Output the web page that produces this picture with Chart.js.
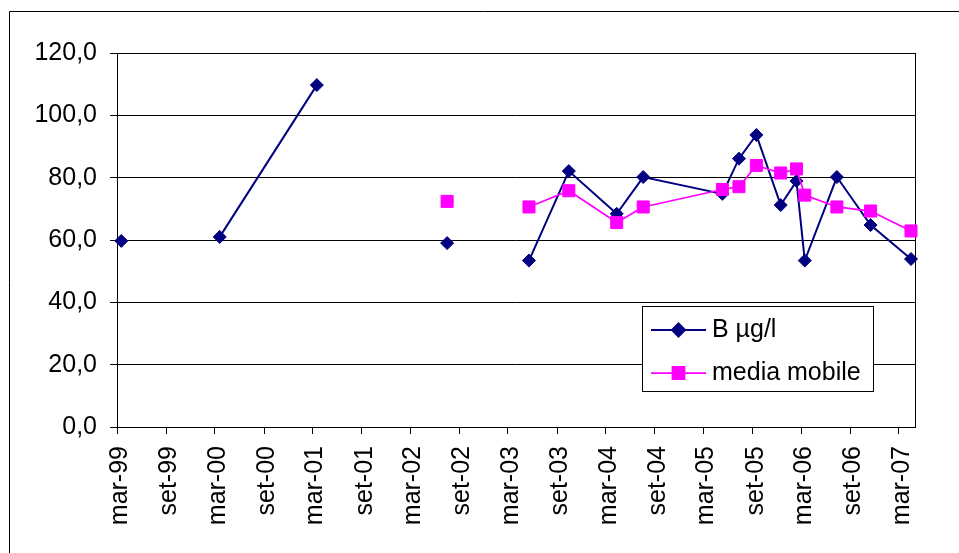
<!DOCTYPE html>
<html>
<head>
<meta charset="utf-8">
<script src="https://cdn.jsdelivr.net/npm/chart.js@4.4.1/dist/chart.umd.min.js"></script>
<style>
  html, body { margin: 0; padding: 0; background: #fff; }
  canvas { display: block; }
</style>
</head>
<body>
<canvas id="chart" width="959" height="553"></canvas>
<script>
// Sampling dates (rows with null values break the lines)
const sampleDates = [
  '1999-03-17', '1999-09-15', '2000-03-19', '2001-03-17', '2001-09-15',
  '2002-07-17', '2003-01-15', '2003-05-19', '2003-10-15', '2004-04-11',
  '2004-07-19', '2005-05-11', '2005-07-12', '2005-09-15', '2005-12-15',
  '2006-02-12', '2006-03-15', '2006-07-13', '2006-11-16', '2007-04-16'
];

// Boron concentration, µg/l
const boron = [
  59.7, null, 61.0, 109.7, null,
  59.0, null, 53.4, 82.1, 68.4,
  80.2, 74.8, 86.1, 93.7, 71.2,
  78.9, 53.4, 80.2, 64.8, 53.9
];

// Moving average
const movingAvg = [
  null, null, null, null, null,
  72.4, null, 70.6, 75.8, 65.6,
  70.6, 76.2, 77.1, 83.9, 81.5,
  82.8, 74.4, 70.6, 69.3, 62.9
];

// Half-yearly tick dates and their labels
const tickDates = [
  '1999-03-01', '1999-09-01', '2000-03-01', '2000-09-01', '2001-03-01',
  '2001-09-01', '2002-03-01', '2002-09-01', '2003-03-01', '2003-09-01',
  '2004-03-01', '2004-09-01', '2005-03-01', '2005-09-01', '2006-03-01',
  '2006-09-01', '2007-03-01'
];
const tickLabels = [
  'mar-99', 'set-99', 'mar-00', 'set-00', 'mar-01', 'set-01', 'mar-02', 'set-02',
  'mar-03', 'set-03', 'mar-04', 'set-04', 'mar-05', 'set-05', 'mar-06', 'set-06', 'mar-07'
];

const axisStart = '1999-03-01';
const axisEnd = '2007-05-01';

function dayNum(iso) {
  const [y, m, d] = iso.split('-').map(Number);
  return Date.UTC(y, m - 1, d) / 86400000;
}

const FONT = 'Arial, "Liberation Sans", sans-serif';
Chart.defaults.font.family = FONT;
Chart.defaults.font.size = 25;
Chart.defaults.color = '#000';

const toPoints = vals => sampleDates.map((d, i) => ({ x: dayNum(d), y: vals[i] }));

// White page with the outer frame
const framePlugin = {
  id: 'frame',
  beforeDraw(chart) {
    const ctx = chart.ctx;
    ctx.save();
    ctx.fillStyle = '#fff';
    ctx.fillRect(0, 0, chart.width, chart.height);
    ctx.strokeStyle = '#000';
    ctx.lineWidth = 1;
    ctx.beginPath();
    ctx.moveTo(9.5, chart.height + 5);
    ctx.lineTo(9.5, 11.5);
    ctx.lineTo(chart.width + 5, 11.5);
    ctx.stroke();
    ctx.restore();
  },
  beforeDatasetsDraw(chart) {
    const { ctx, chartArea: a } = chart;
    ctx.save();
    ctx.strokeStyle = '#000';
    ctx.lineWidth = 1;
    ctx.strokeRect(Math.round(a.left) + 0.5, Math.round(a.top) + 0.5,
                   Math.round(a.right - a.left), Math.round(a.bottom - a.top));
    ctx.restore();
  }
};

// Boxed legend inside the plot area
const boxLegendPlugin = {
  id: 'boxLegend',
  afterDraw(chart, args, opts) {
    const ctx = chart.ctx;
    ctx.save();
    ctx.fillStyle = '#fff';
    ctx.fillRect(opts.x, opts.y, opts.w, opts.h);
    ctx.strokeStyle = '#000';
    ctx.lineWidth = 1;
    ctx.strokeRect(opts.x + 0.5, opts.y + 0.5, opts.w, opts.h);
    chart.data.datasets.forEach((ds, i) => {
      const rowY = opts.y + opts.rowStart + i * opts.rowGap;
      ctx.strokeStyle = ds.borderColor;
      ctx.lineWidth = ds.borderWidth;
      ctx.beginPath();
      ctx.moveTo(opts.x + opts.lineFrom, rowY);
      ctx.lineTo(opts.x + opts.lineTo, rowY);
      ctx.stroke();
      ctx.fillStyle = ds.pointBackgroundColor;
      ctx.strokeStyle = ds.pointBorderColor;
      Chart.helpers.drawPoint(ctx, {
        pointStyle: ds.pointStyle,
        radius: ds.pointRadius,
        borderWidth: ds.pointBorderWidth,
        rotation: 0
      }, opts.x + (opts.lineFrom + opts.lineTo) / 2, rowY);
      ctx.fillStyle = '#000';
      ctx.font = '25px ' + FONT;
      ctx.textBaseline = 'middle';
      ctx.textAlign = 'left';
      ctx.fillText(ds.label, opts.x + opts.textX, rowY);
    });
    ctx.restore();
  }
};

new Chart(document.getElementById('chart'), {
  type: 'line',
  data: {
    datasets: [
      {
        label: 'B µg/l',
        data: toPoints(boron),
        borderColor: '#000080',
        backgroundColor: '#000080',
        borderWidth: 2,
        pointStyle: 'rectRot',
        pointRadius: 6.5,
        pointBorderWidth: 1,
        pointBackgroundColor: '#000080',
        pointBorderColor: '#000080',
        tension: 0,
        spanGaps: false,
        clip: false,
        order: 0
      },
      {
        label: 'media mobile',
        data: toPoints(movingAvg),
        borderColor: '#ff00ff',
        backgroundColor: '#ff00ff',
        borderWidth: 1.75,
        pointStyle: 'rect',
        pointRadius: 8.5,
        pointBorderWidth: 1,
        pointBackgroundColor: '#ff00ff',
        pointBorderColor: '#ff00ff',
        tension: 0,
        spanGaps: false,
        clip: false,
        order: -1
      }
    ]
  },
  options: {
    responsive: false,
    animation: false,
    devicePixelRatio: 1,
    layout: { padding: { left: 0, top: 53, right: 44, bottom: 0 } },
    plugins: {
      legend: { display: false },
      tooltip: { enabled: false },
      boxLegend: {
        x: 642, y: 306, w: 231, h: 85,
        rowStart: 24, rowGap: 43,
        lineFrom: 9, lineTo: 64, textX: 70
      }
    },
    scales: {
      x: {
        type: 'linear',
        min: dayNum(axisStart),
        max: dayNum(axisEnd),
        afterFit(scale) { scale.height = 126; },
        afterBuildTicks(scale) {
          scale.ticks = tickDates.map(d => ({ value: dayNum(d) }));
        },
        ticks: {
          autoSkip: false,
          minRotation: 90,
          maxRotation: 90,
          padding: 12,
          labelOffset: 3,
          callback: (v, i) => tickLabels[i]
        },
        grid: {
          drawOnChartArea: false,
          drawTicks: true,
          tickLength: 7,
          color: '#000',
          lineWidth: 1
        },
        border: { display: true, color: '#000', width: 1 }
      },
      y: {
        min: 0,
        max: 120,
        afterFit(scale) { scale.width = 117; },
        ticks: {
          stepSize: 20,
          padding: 13,
          callback: v => v.toFixed(1).replace('.', ',')
        },
        grid: {
          color: '#000',
          lineWidth: 1,
          drawTicks: true,
          tickLength: 7
        },
        border: { display: true, color: '#000', width: 1 }
      }
    }
  },
  plugins: [framePlugin, boxLegendPlugin]
});
</script>
</body>
</html>
